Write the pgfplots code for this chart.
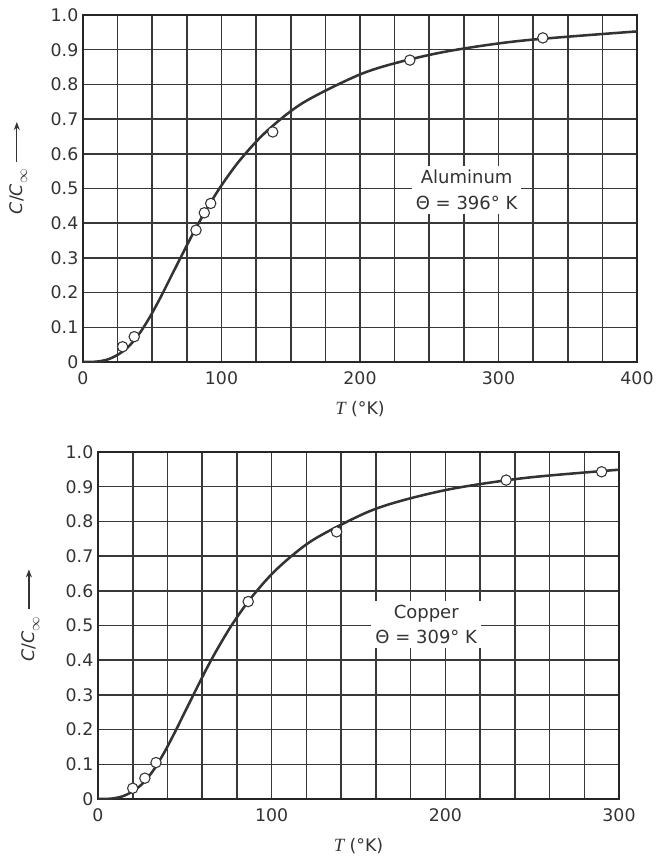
\documentclass[border=0pt]{standalone}
\usepackage{fontspec}
\setmainfont{DejaVu Sans}
\newfontfamily\serifit{Liberation Serif}
\usepackage{pgfplots}
\usetikzlibrary{arrows.meta}
\pgfplotsset{compat=1.18}
\newcommand{\uparr}{\tikz[baseline=-0.55ex]\draw[-{Stealth[length=6pt,width=4.5pt]}, line width=1pt, black!80] (0,0)--(30pt,0);}
\pgfplotsset{
  heatcap/.style={
    scale only axis, height=260.25pt, anchor=south west,
    ymin=0, ymax=1,
    ytick={0,0.1,0.2,0.3,0.4,0.5,0.6,0.7,0.8,0.9,1},
    yticklabels={0,0.1,0.2,0.3,0.4,0.5,0.6,0.7,0.8,0.9,1.0},
    grid=both,
    major grid style={black!78, line width=1.15pt},
    minor grid style={black!78, line width=1.15pt},
    axis line style={line width=1.6pt, black!85},
    tick style={draw=none},
    /pgf/number format/assume math mode=true,
    tick label style={font=\fontsize{13}{15}\selectfont, black!80},
    xticklabel style={yshift=-4pt},
    label style={font=\fontsize{13}{15}\selectfont, black!80},
    xlabel={{\serifit\itshape\fontsize{14}{15}\selectfont T} (°K)},
    ylabel={\textit{C}/\textit{C}\raisebox{-0.3em}{\fontsize{11}{11}\selectfont$\infty$}\hspace{5pt}\uparr},
    xlabel style={yshift=-5pt},
  },
  curve/.style={smooth, line width=1.9pt, black!80},
  pts/.style={only marks, mark=*, mark size=3.9pt,
    mark options={fill=white, draw=black!80, line width=0.8pt}},
}
\tikzset{
  tag/.style={fill=white, align=center, inner sep=3pt,
    font=\fontsize{13.5}{19}\selectfont, text=black!80},
}
\begin{document}
\begin{tikzpicture}
\path (0pt,0pt) rectangle (493.5pt,-648pt);

% Aluminum
\begin{axis}[heatcap, at={(62.25pt,-271.5pt)}, width=415.5pt,
  xmin=0, xmax=400, xtick={0,100,200,300,400},
  minor xtick={25,50,75,125,150,175,225,250,275,325,350,375},
  ylabel style={at={(rel axis cs:-0.117,0.56)}, anchor=center}]
\addplot[curve] coordinates {
(0,0)(6.6,0.0004)(9.9,0.0012)(13.2,0.003)(15.84,0.0052)(19.8,0.0102)
(26.4,0.024)(33,0.0448)(39.6,0.0758)(44,0.1015)(49.5,0.1382)(56.6,0.1909)
(66,0.2656)(79.2,0.3686)(88,0.432)(99,0.5031)(113.1,0.5807)(132,0.6628)
(158.4,0.7459)(198,0.8254)(226.3,0.8622)(264,0.896)(316.8,0.926)(400,0.9527)
};
\addplot[pts] coordinates {
(28.6,0.044)(37,0.073)(81.6,0.38)(87.6,0.43)(92.2,0.457)
(137,0.663)(236,0.870)(332,0.934)
};
\node[tag] at (axis cs:277,0.496) {Aluminum\\Θ = 396° K};
\end{axis}

% Copper
\begin{axis}[heatcap, at={(73.5pt,-599.25pt)}, width=390.75pt,
  xmin=0, xmax=300, xtick={0,100,200,300},
  minor xtick={20,40,60,80,120,140,160,180,220,240,260,280},
  ylabel style={at={(rel axis cs:-0.13,0.53)}, anchor=center}]
\addplot[curve] coordinates {
(0,0)(5.15,0.0004)(7.7,0.0012)(10.3,0.003)(12.36,0.0052)(15.45,0.0102)
(20.6,0.024)(25.75,0.0448)(30.9,0.0758)(34.3,0.1015)(38.6,0.1382)(44.1,0.1909)
(51.5,0.2656)(61.8,0.3686)(68.7,0.432)(77.25,0.5031)(88.3,0.5807)(103,0.6628)
(123.6,0.7459)(154.5,0.8254)(176.6,0.8622)(206,0.896)(247.2,0.926)(300,0.949)
};
\addplot[pts] coordinates {
(20,0.031)(27,0.06)(33.4,0.105)(86.5,0.569)(137.4,0.770)(235,0.919)(290,0.943)
};
\node[tag] at (axis cs:189,0.504) {Copper\\Θ = 309° K};
\end{axis}
\end{tikzpicture}
\end{document}
